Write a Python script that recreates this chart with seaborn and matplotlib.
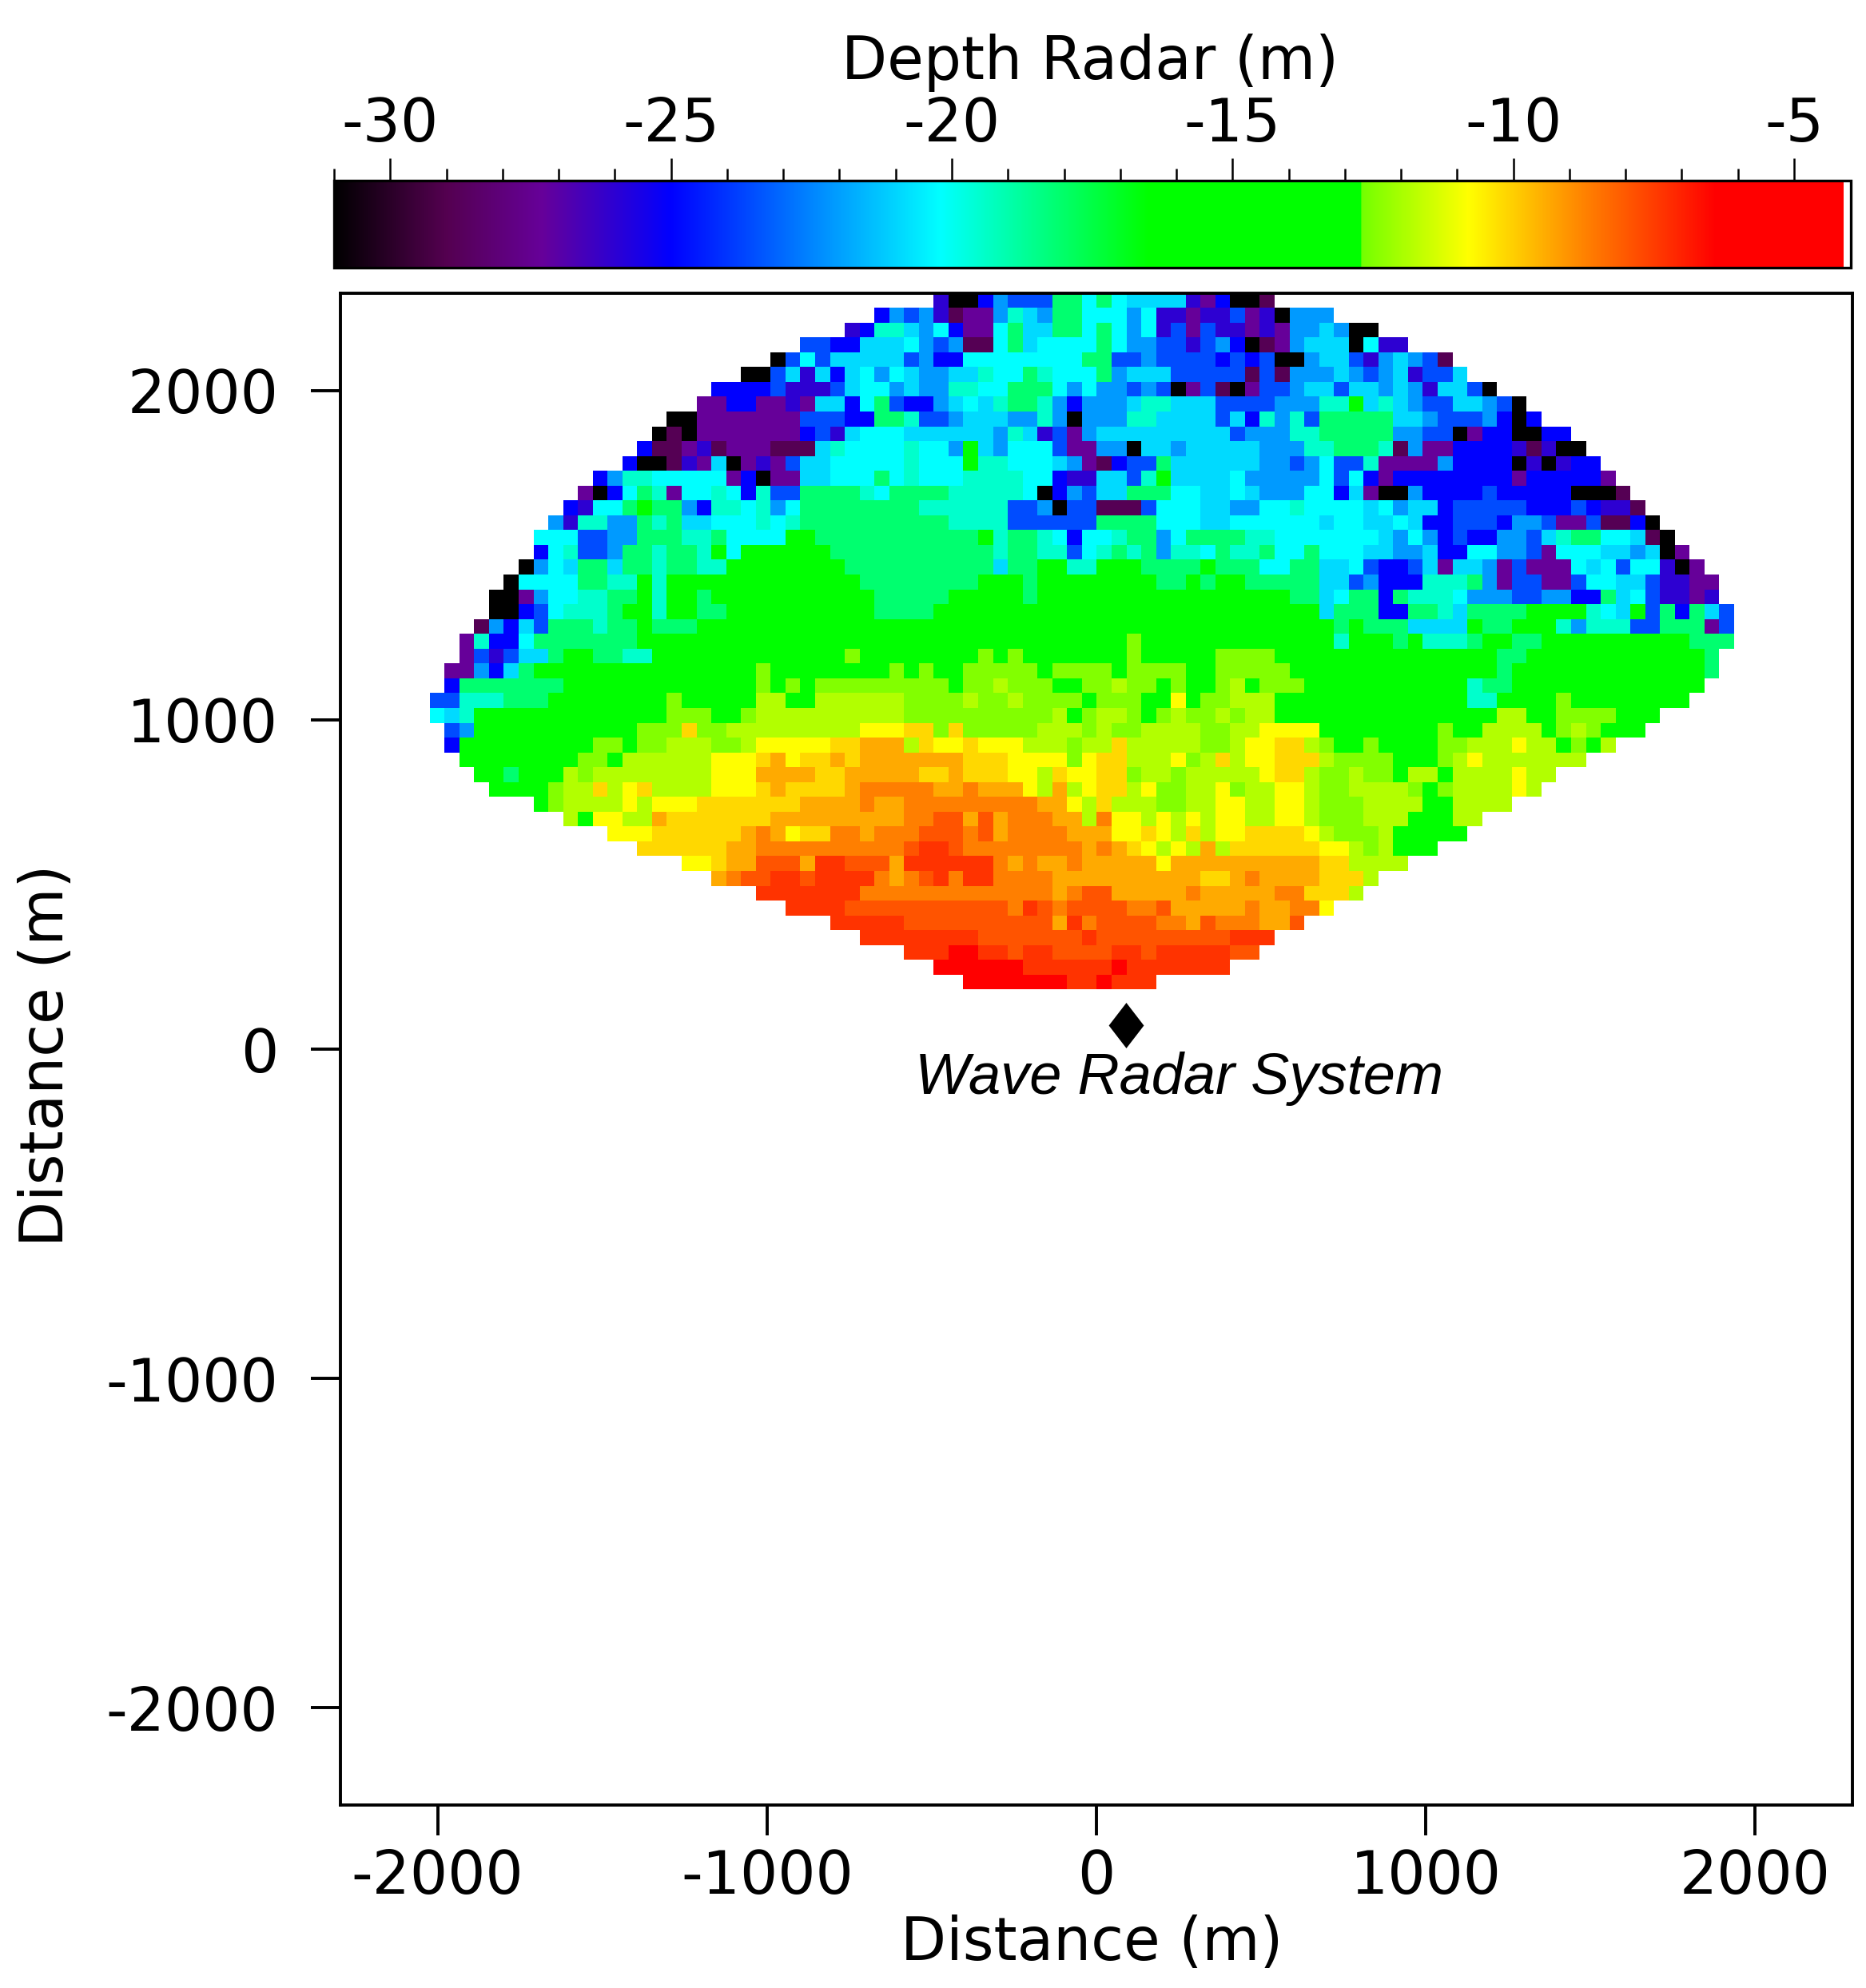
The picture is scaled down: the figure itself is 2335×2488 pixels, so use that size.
"""Radar-derived depth map seen from the wave radar system."""

import matplotlib.pyplot as plt
import numpy as np
import pandas as pd
import seaborn as sns
from matplotlib.colors import LinearSegmentedColormap

# one letter per grid cell, blanks are padded when the rows are read
LEFT_ROWS = [
    "IKKBSAA",
    "BSASIMPPSTC",
    "IBTTCSYBPPYNC",
    "AABBCCCYSASMMYNC",
    "KAYACCCCCASBBYYYYY",
    "KKACICBCYSYCSSCCTYYN",
    "BBBBAIIIACYYSCSSTTYYNN",
    "PPBBPPIPCCBYNABBSCYCTNN",
    "KKPPPPPPPAAABBNNTAASCCCSS",
    "KMKPPPPPPPBAICYYYCCCCCCSTC",
    "BMMPIMPPPMMMCTYYYYTYYSGCSYY",
    "BKKMIPCKPIPACCYYYYYTYYYGTTYY",
    "BSTTYYYYYPBKPPCCYYYNYTYYYTTTTY",
    "PKBYNTPYYTYBTAANNNNTYNNNNTTTTTY",
    "BIYYNGNNSBTTYTSYNNNNNNNNTTTTTTAA",
    "SITTSSNTNCCYYYTYTNNNNNNNNNNTTTTAA",
    "YYYAASSNNNTTNYYYYGGNNNNNNNNNNNGTNN",
    "BYTAASNNTNNTGYGGGGGGNNNNNNNNNNNTNN",
    "KSYCNNCNNTNNTTGGGGGGGGNNNNNNNNNNCNN",
    "KYYYYNNTTGTGGGGGGGGGGGGGNNNNNNNNGGGN",
    "KKPSYYTTNNGTGGNGGGGGGGGGGGNNNNNGGGGGN",
    "KKBAYTTTNGGTGGNNGGGGGGGGGGNNNNGGGGGGG",
    "MSBCANNNTNNGNNNGGGGGGGGGGGGGGGGGGGGGGG",
    "PTBBYNNNNNNNGGGGGGGGGGGGGGGGGGGGGGGGGGG",
    "PAIACCNGGNNTTGGGGGGGGGGGGGLGGGGGGGGLGLG",
    "PPSBCNGGGGGGGGGGGGGGGLGGGGGGGGLGLGGLLLLL",
    "BNNNNNNNGGGGGGGGGGGGGLGLGLLLLLLLLLGLLHLL",
    "AATTTNNNGGGGGGGGLGGGGGHHGGHHHHHHLLLLHLLHL",
    "YCTGGGGGGGGGGGGGLLLGGLHHHHHHHHHHLLLLLLLLL",
    "ASGGGGGGGGGGGLLLDLLHHHHHHHHHWWWDDLDLLLLL",
    "BGGGGGGGGGLLGLLHHHLLHWWWWWDDEEEHDWWDWWWH",
    "GGGGGGGGLLGHHHHHHWWWDEWDDEDEEEEEEEDDDWW",
    "GGNGGGHLHHHHHHHHWWWEEEEDDEEEEEDDEDDDWW",
    "GGGGLHHDHWDHHHHWWWDEDDDDEOOOOOEEOEEEW",
    "GLHHHHWHWWWDDDDDDDEEEEOEEOOOOOOOOO",
    "HGWWHHEDDDDDDDEEEEEEEEEOOFFEFEOO",
    "WWWDDDDDDEOEWDDOOEOOOFFFOFEOO",
    "DDDDDDEEOOOOOOOOOOFRRFOOOOO",
    "WWDEEFFFERRFFFERRRRRROEO",
    "EOFFRRFRRRROEOFRORROOO",
    "RRRRRRROOOOOOOOOOOO",
    "RRRRFFFFFFFFFFFOR",
    "RRRRRFFFFFFFFF",
    "RRRRRRRRFFFF",
    "RRRXXRRFR",
    "XXXXXXR",
    "XXXXX",
]
RIGHT_ROWS = [
    "ANNYNYCCCCIPBKKM",
    "SNNYYYSYIIPIIAPIKSSS",
    "CNNYNYSYIAPAIIPIPSSCSKK",
    "YYYYNYSSAAIASBKMPSCCCKYII",
    "YYYNNAASAAAABABAKKSCCAISCSAM",
    "TYYYNSCCCAAAAAMAMSSSCSASCIAAC",
    "NYSYSSASAKPAMKPAASCCACCSCSICCAK",
    "TSBSSSCTTCCCAAAASSSTTGCTCSAACCSAK",
    "TSKSSSTTCCCCACBTSTANNNNNCCSAAASBKB",
    "IAPSCCCCCCCCCASSSTTNNNNNSSAAKPBBKKBB",
    "YAPPSSKCCSCCCCCSSSTTNNNTMSPPBBBBIMIKK",
    "YCSPMBAANCCCCCCSSASYAATPPPPSBBBBKIKIBB",
    "YBIICCATGCCCCYSSSSSYAYBPBBBBBBBBPBBBBBP",
    "KBSACCNNNYYCCYCSSSYYBCPKKSBBBBABBBBBKKKM",
    "SKAAMMMAYYYCCSSYYTYYYYCYSCCBAAAAABBBABIIM",
    "AAAANNNNYYYCCYYYYYYCYYCCYCBBAAABSSAPPAMMBK",
    "TYBYYTNNSYNNNNTTYYYYYYYCSYSBABBSSACTNNYYCMK",
    "TTAYTNTNSTTYNTTNYYNYYYCCSSCBBYYSSAPYYYCCSCKP",
    "GGTTGGGNNNNGNNNYYNNCCYABBACPCCSPAPPPYCYAYYIKP",
    "GGGGGGGGNNGNGGNNNNNCCASBBBTTTNSPAAPPAYYCCAIIPP",
    "GGGGGGGGGGGGGGGGGNNCYNNBNTTTYSSSAASSBBNCYAIIPI",
    "GGGGGGGGGGGGGGGGGGGCNNNBBNNTCNNNNGGGGTYCGANBNCA",
    "GGGGGGGGGGGGGGGGGGGGNGNNNCCCCGNNGGGTSTTTAANNNPA",
    "GGGGGGLGGGGGGGGGGGGGTGGGNGTTTNGGNNGGGGGGGGGGNNNI",
    "GGGGGGLGGGGGLLLLGGGGGGGGGGGGGGGNNGGGGGGGGGGGGN",
    "GLLLLGLLLLGGLLLLLGGGGGGGGGGGGGGNGGGGGGGGGGGGGN",
    "LGGLLHLLGLGGLHGLLLGGGGGGGGGGGTNNGGGGGGGGGGGGG",
    "LLLGLLLGGWGLLHHHGGGGGGGGGGGGGTTGGGGLGGGGGGGG",
    "LHGLHHLGLHLLHLHHGGGGGGGGGGGGGGGHHGGLLLLGGG",
    "HHHLHLLHHHHLLHHWWWWGGGGGGGGLGGHHHHGLHLGGG",
    "HHLHHDHHHHHLLHWWDDHLGGLGGGGLLHHHWHHGLGH",
    "WWLWDDHHHWLHDHWWDDDHLLLLGGGLHWHHHHHHH",
    "HDWWDDLHHLHHHHHWDDHLLHLLGHHGHHHHWHH",
    "HEHWDDHWLLHHWLHHWWHLLHHHHLGLHHHHWH",
    "EEWHDHHHLLHHWWHHWWHLLLHHHHGGHHHH",
    "OEEHOWWHWHWHWWHHWWHLLLHHHGGGHH",
    "OOEEEWWDWHDHWWDDDDWHLLLHGGGGG",
    "OOOEOEDWHWHEHDDDDDDWWHLHGGG",
    "EEOEEEEEWEEEEEEEEEEDDHHHH",
    "OEEEEEEEEEEDDEOEEEEDDDH",
    "OEOFFEEEEEOEEEEEOODDDH",
    "FOFFFFOOFEEEEEOEEOOW",
    "FEROFFFFOOEFOOOEEF",
    "FFFRFFFFFFFFFRRR",
    "RFFFFRRFRRRRRFF",
    "RRRRRXRRRRRRR",
    "XXRRXRRR",
]

CELL_CODES = list("KMPIBASCYTNGLHWDEOFRX")
CELL_DEPTHS = [-31.0, -28.9, -27.3, -26.0, -25.0, -23.56, -22.1, -20.9, -20.2, -19.46, -18.1,
               -15.0, -12.5, -11.85, -10.8, -10.17, -9.4, -8.7, -7.92, -7.32, -6.0]

CMAP_DEPTHS = [-31.0, -29.0, -27.3, -25.0, -20.2, -16.5, -12.72, -12.7, -10.8, -8.7, -6.4, -4.12]
CMAP_COLORS = ["#000000", "#540050", "#660099", "#0000ff", "#00ffff", "#00ff00",
               "#00ff00", "#73ff00", "#ffff00", "#ff8000", "#ff0000", "#ff0000"]

DISTANCE_TICKS = [-2000, -1000, 0, 1000, 2000]
DISTANCE_LABELS = ["-2000", "-1000", "0", "1000", "2000"]
DEPTH_TICKS = [-30, -25, -20, -15, -10, -5]
DEPTH_LABELS = ["-30", "-25", "-20", "-15", "-10", "-5"]
DEPTH_MINOR = [-31, -29, -28, -27, -26, -24, -23, -22, -21, -19, -18, -17, -16,
               -14, -13, -12, -11, -9, -8, -7, -6]
RADAR_X, RADAR_Y = 90, 73

GRID_LEFT, GRID_TOP, CELL = -2024.0, 2296.0, 45.0
AXIS_LIMIT = 2295
FONT_SIZE = 53.5


def to_col(x):
    return (np.asarray(x, dtype=float) - GRID_LEFT) / CELL


def to_row(y):
    return (GRID_TOP - np.asarray(y, dtype=float)) / CELL


sns.set_theme(style="ticks", rc={"font.family": "DejaVu Sans", "font.size": FONT_SIZE})

lookup = dict(zip(CELL_CODES, CELL_DEPTHS))
grid = []
for left, right in zip(LEFT_ROWS, RIGHT_ROWS):
    row = left.rjust(41)[-41:] + right.ljust(47)[:47]
    grid.append([lookup.get(c, np.nan) for c in row])
depth = pd.DataFrame(grid)

vmin, vmax = CMAP_DEPTHS[0], CMAP_DEPTHS[-1]
stops = [(d - vmin) / (vmax - vmin) for d in CMAP_DEPTHS]
cmap = LinearSegmentedColormap.from_list("depth_radar", list(zip(stops, CMAP_COLORS)), N=2048)

W, H = 2335, 2488
fig = plt.figure(figsize=(W / 100, H / 100), dpi=100)
ax = fig.add_axes([426 / W, 1 - 2259 / H, (2318 - 426) / W, (2259 - 367) / H])
cax = fig.add_axes([418 / W, 1 - 335 / H, (2316 - 418) / W, (335 - 226) / H])

sns.heatmap(depth, cmap=cmap, vmin=vmin, vmax=vmax, ax=ax, cbar_ax=cax,
            cbar_kws={"orientation": "horizontal"}, xticklabels=False, yticklabels=False)

ax.set_xlim(to_col(-AXIS_LIMIT), to_col(AXIS_LIMIT))
ax.set_ylim(to_row(-AXIS_LIMIT), to_row(AXIS_LIMIT))
ax.set_xticks(to_col(DISTANCE_TICKS))
ax.set_xticklabels(DISTANCE_LABELS, rotation=0)
ax.set_yticks(to_row(DISTANCE_TICKS))
ax.set_yticklabels(DISTANCE_LABELS, rotation=0)
ax.tick_params(axis="x", pad=12)
ax.tick_params(axis="y", pad=29)
ax.tick_params(axis="both", labelsize=FONT_SIZE, length=27, width=2.8, color="black",
               labelcolor="black", bottom=True, left=True)
for spine in ax.spines.values():
    spine.set_visible(True)
    spine.set_linewidth(2.8)
    spine.set_color("black")
ax.set_xlabel("Distance (m)", fontsize=FONT_SIZE, color="black", labelpad=7, x=0.497)
ax.set_ylabel("Distance (m)", fontsize=FONT_SIZE, color="black", labelpad=27, y=0.496)

ax.plot(to_col(RADAR_X), to_row(RADAR_Y), marker=[(0, -1), (0.77, 0), (0, 1), (-0.77, 0)],
        markersize=41, color="black", markeredgewidth=0, linestyle="none", clip_on=False)
ax.text(to_col(250), to_row(-90), "Wave Radar System", family="Liberation Sans", style="italic",
        fontsize=52, color="black", ha="center", va="center")

cbar = ax.collections[0].colorbar
cbar.outline.set_visible(True)
cbar.outline.set_linewidth(2.4)
cbar.outline.set_edgecolor("black")
cbar.set_ticks(DEPTH_TICKS, labels=DEPTH_LABELS)
cax.set_xticks(DEPTH_MINOR, minor=True)
cax.set_xlim(-31.0, -3.99)
cax.xaxis.set_ticks_position("top")
cax.xaxis.set_label_position("top")
cax.tick_params(axis="x", which="major", length=20, width=1.8, labelsize=FONT_SIZE,
                color="black", labelcolor="black", pad=4, top=True)
cax.tick_params(axis="x", which="minor", length=11, width=1.8, color="black", top=True)
cax.set_xlabel("Depth Radar (m)", fontsize=FONT_SIZE, color="black", labelpad=15, x=0.4985)

fig.savefig("out.png", dpi=100, facecolor="white")
plt.close(fig)
